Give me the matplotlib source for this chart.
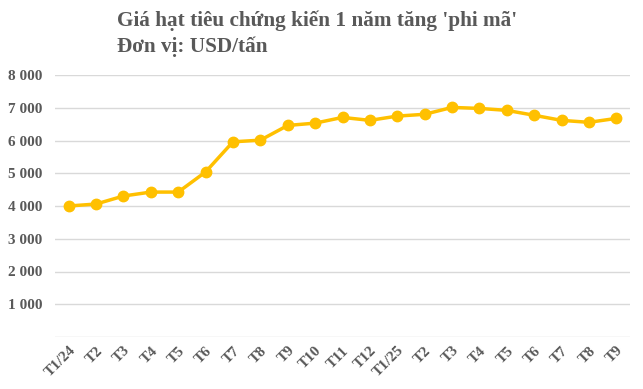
import numpy as np
import matplotlib.pyplot as plt

months = ['T1/24', 'T2', 'T3', 'T4', 'T5', 'T6', 'T7', 'T8', 'T9', 'T10', 'T11', 'T12',
          'T1/25', 'T2', 'T3', 'T4', 'T5', 'T6', 'T7', 'T8', 'T9']
prices = [4000, 4060, 4305, 4425, 4425, 5040, 5960, 6010, 6460, 6530, 6705, 6615,
          6745, 6800, 7010, 6980, 6920, 6770, 6615, 6555, 6675]
yticks = [1000, 2000, 3000, 4000, 5000, 6000, 7000, 8000]

plt.rcParams['font.family'] = ['Liberation Serif', 'DejaVu Serif']
grey = '#595959'

fig = plt.figure(figsize=(6.43, 3.89), dpi=100)
ax = fig.add_axes([55 / 643, 1 - 337 / 389, 575 / 643, 262 / 389])

x = np.arange(len(months))
ax.plot(x, prices, color='#FFC000', lw=2.5, marker='o', ms=7.5, zorder=3)

ax.set_xlim(-0.5, len(months) - 0.5)
ax.set_ylim(0, 8000)
ax.set_yticks([0] + yticks)
ax.set_yticklabels([''] + ['{:,}'.format(v).replace(',', ' ') for v in yticks],
                   fontsize=11, fontweight='bold', color=grey)
ax.set_xticks(x)
ax.set_xticklabels(months, rotation=45, ha='right', va='top', rotation_mode='anchor',
                   fontsize=11, fontweight='bold', color=grey)
ax.tick_params(axis='y', length=0, pad=9)
ax.tick_params(axis='x', length=0, pad=5)
ax.grid(axis='y', color='#D9D9D9', lw=1)
ax.set_axisbelow(True)
for s in ax.spines.values():
    s.set_visible(False)

fig.text(117 / 643, 1 - 26 / 389, "Giá hạt tiêu chứng kiến 1 năm tăng 'phi mã'",
         fontsize=15.3, fontweight='bold', color=grey)
fig.text(117 / 643, 1 - 52 / 389, 'Đơn vị: USD/tấn',
         fontsize=15.3, fontweight='bold', color=grey)

fig.savefig('out.png', dpi=100)
